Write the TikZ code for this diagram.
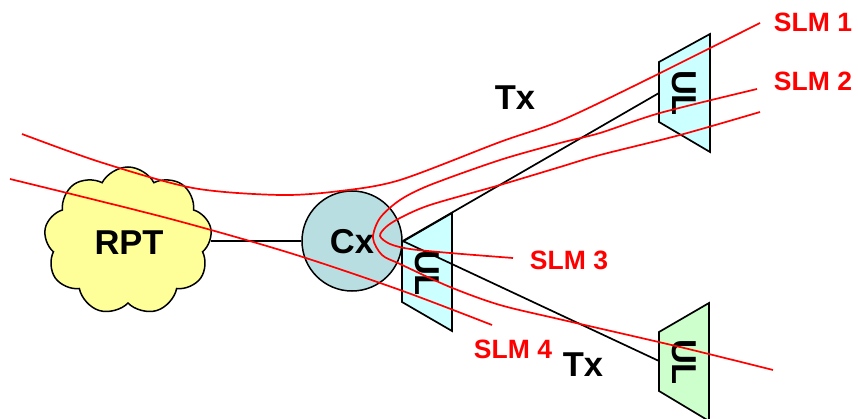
\documentclass[tikz,border=0pt]{standalone}
\usepackage{fontspec}
\setmainfont{Liberation Sans}
\usetikzlibrary{shapes.symbols}
\definecolor{cloudyellow}{HTML}{FFFF99}
\definecolor{cxblue}{HTML}{B9DEE2}
\definecolor{ulcyan}{HTML}{CCFFFF}
\definecolor{ulgreen}{HTML}{CCFFCC}
\definecolor{sigred}{HTML}{FF0000}
\begin{document}
\begin{tikzpicture}[x=1pt,y=-1pt,
  lbl/.style={font=\fontsize{34.5}{34.5}\selectfont\bfseries, inner sep=0pt},
  slm/.style={font=\fontsize{26.5}{26.5}\selectfont\bfseries, text=sigred, inner sep=0pt},
  sig/.style={draw=sigred, line width=1.7pt},
  link/.style={draw=black, line width=1.7pt},
  ulbox/.style={draw=black, line width=1.7pt, line join=miter},
]
\useasboundingbox (0,0) rectangle (858,419);
% cloud
\node[cloud, cloud puffs=9, cloud puff arc=125, aspect=1.1, draw, line width=1.5pt,
      fill=cloudyellow, minimum width=168pt, minimum height=148pt, inner sep=0pt] (rpt) at (128,241) {};
\node[lbl] (rpttext) at (129,243) {RPT};
% Cx
\node[circle, draw, line width=1.5pt, fill=cxblue, minimum size=100pt, inner sep=0pt] (cx) at (352,241) {};
\node[lbl] (cxtext) at (352,242) {Cx};
\draw[link] (rpt) -- (cx);
% UL boxes
\draw[ulbox, fill=ulcyan] (659,62) -- (710,34) -- (710,152) -- (659,122) -- cycle;
\coordinate (ulaIn) at (659,93);
\node[lbl, rotate=-90] (ula) at (684,93) {UL};
\draw[ulbox, fill=ulcyan] (402,242) -- (452,213) -- (452,331) -- (402,302) -- cycle;
\node[lbl, rotate=-90] (ulb) at (427,273) {UL};
\draw[ulbox, fill=ulgreen] (659,332) -- (709,303) -- (709,421) -- (659,391) -- cycle;
\coordinate (ulcIn) at (659,361);
\node[lbl, rotate=-90] (ulc) at (684,362) {UL};
% Tx links
\draw[link] (cx.east) -- (ulaIn);
\draw[link] (cx.east) -- (ulcIn);
\node[lbl] (txa) at (515,98) {Tx};
\node[lbl] (txb) at (583,365) {Tx};
% signal curves
\draw[sig] plot[smooth] coordinates {(22,134) (100,162) (193,188) (280,195) (340,191) (400,180) (500,142) (560,121) (640,83) (760,23)};
\draw[sig] plot[smooth] coordinates {(757,89) (660,113) (600,133) (560,143) (500,160) (430,185) (400,200) (380,218) (373,238) (382,255) (400,264) (450,287) (500,305) (563,320) (680,347) (773,370)};
\draw[sig] plot[smooth] coordinates {(760,112) (680,135) (600,155) (560,167) (500,185) (430,205) (400,218) (386,227) (380,236) (390,244) (410,249) (450,253) (513,258)};
\draw[sig] plot[smooth] coordinates {(10,179) (167,218) (290,253) (400,290) (492,325)};
% labels
\node[slm] (slm1) at (813,22) {SLM 1};
\node[slm] (slm2) at (813,81) {SLM 2};
\node[slm] (slm3) at (569,260) {SLM 3};
\node[slm] (slm4) at (513,349) {SLM 4};
\end{tikzpicture}
\end{document}
